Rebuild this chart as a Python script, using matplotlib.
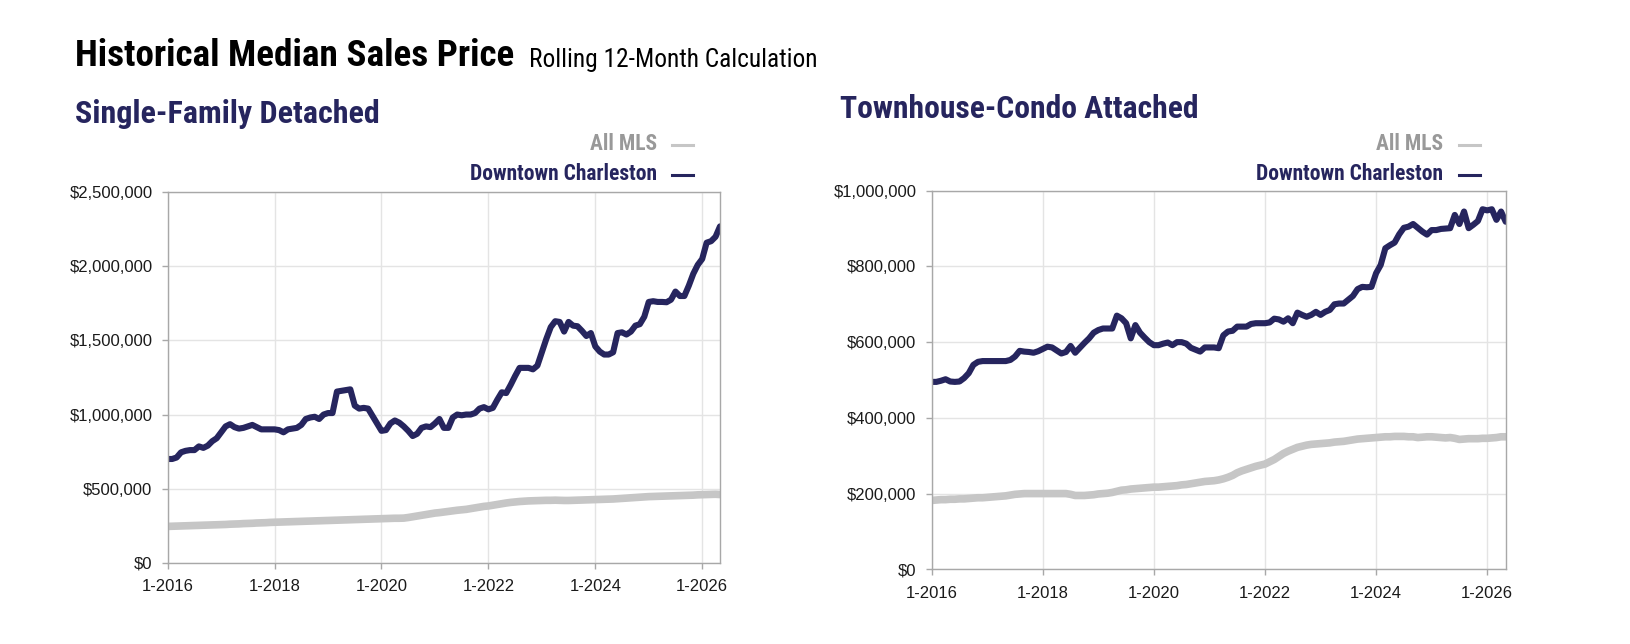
import numpy as np
import matplotlib.pyplot as plt
from matplotlib.lines import Line2D
from matplotlib.ticker import FuncFormatter

# monthly values in thousands of dollars, Jan 2016 .. May 2026
sf_downtown = [
    700, 700, 710, 745, 755, 760, 760, 785, 775, 790, 820, 840,
    880, 920, 935, 915, 905, 910, 920, 930, 915, 900, 900, 900,
    900, 895, 880, 900, 905, 910, 930, 970, 980, 985, 970, 1000,
    1010, 1010, 1155, 1160, 1165, 1170, 1060, 1040, 1045, 1040, 990, 940,
    890, 895, 940, 960, 945, 920, 890, 855, 870, 910, 920, 915,
    940, 970, 910, 910, 980, 1000, 995, 1000, 1000, 1010, 1040, 1050,
    1035, 1045, 1100, 1150, 1145, 1200, 1260, 1315, 1315, 1315, 1305, 1330,
    1420, 1510, 1590, 1630, 1625, 1560, 1625, 1600, 1596, 1565, 1530, 1550,
    1460, 1425, 1405, 1405, 1420, 1550, 1555, 1540, 1560, 1600, 1610, 1660,
    1760, 1765, 1760, 1760, 1758, 1775, 1830, 1800, 1800, 1870, 1950, 2010,
    2050, 2160, 2170, 2200, 2270,
]
sf_all_mls = [
    245, 246, 247, 248, 249, 250, 251, 252, 253, 254, 255, 256,
    257, 258, 260, 261, 262, 264, 265, 266, 268, 269, 270, 272,
    273, 274, 275, 276, 277, 278, 279, 280, 281, 282, 283, 284,
    285, 286, 287, 288, 289, 290, 291, 292, 293, 294, 295, 296,
    297, 298, 299, 300, 300, 301, 305, 310, 315, 320, 325, 330,
    335, 338, 342, 346, 350, 354, 357, 360, 365, 370, 375, 380,
    383, 388, 393, 398, 403, 407, 410, 413, 415, 417, 418, 419,
    420, 421, 421, 422, 421, 420, 420, 421, 422, 423, 424, 425,
    426, 427, 428, 429, 430, 432, 434, 436, 438, 440, 442, 444,
    446, 447, 448, 449, 450, 451, 452, 453, 454, 455, 456, 458,
    459, 460, 461, 462, 460,
]
tc_downtown = [
    495, 495, 498, 502, 496, 495, 496, 505, 518, 540, 548, 550,
    550, 550, 550, 550, 550, 553, 562, 577, 575, 574, 572, 576,
    582, 588, 586, 578, 570, 574, 590, 572, 585, 598, 610, 625,
    632, 636, 636, 636, 670, 663, 650, 610, 645, 625, 612, 600,
    592, 592, 596, 599, 592, 600, 600, 596, 585, 580, 575, 586,
    586, 586, 584, 618, 628, 630, 641, 641, 641, 648, 650, 650,
    650, 652, 662, 660, 654, 663, 650, 678, 672, 667, 672, 680,
    672, 680, 685, 700, 702, 702, 712, 722, 740, 746, 745, 746,
    782, 804, 848, 856, 863, 885, 902, 905, 912, 902, 892, 884,
    896, 896, 899, 900, 901, 936, 912, 945, 901, 910, 920, 951,
    948, 951, 923, 945, 918,
]
tc_all_mls = [
    182, 183, 184, 184, 185, 185, 186, 186, 187, 188, 189, 189,
    190, 191, 192, 193, 194, 196, 198, 199, 200, 200, 200, 200,
    200, 200, 200, 200, 200, 200, 198, 195, 195, 195, 196, 197,
    199, 200, 201, 203, 206, 209, 210, 212, 213, 214, 215, 216,
    217, 217, 218, 219, 220, 221, 223, 224, 226, 228, 230, 232,
    233, 234, 236, 239, 243, 248, 255, 260, 264, 268, 272, 275,
    278, 284, 290, 298, 306, 312, 317, 322, 325, 328, 330, 331,
    332, 333, 334, 336, 337, 338, 340, 342, 344, 345, 346, 347,
    348, 349, 350, 350, 351, 351, 351, 350, 350, 348, 349, 350,
    350, 349, 348, 347, 348, 346, 343, 344, 345, 345, 345, 346,
    346, 347, 348, 350, 350,
]
xtick_labels = ['1-2016', '1-2018', '1-2020', '1-2022', '1-2024', '1-2026']
xtick_months = [0, 24, 48, 72, 96, 120]

W, H = 1631, 644
navy = '#26255e'
grey_line = '#c6c6c6'
grey_text = '#999999'
narrow = ['Roboto Condensed', 'Liberation Sans', 'DejaVu Sans']
plt.rcParams['font.family'] = ['Liberation Sans', 'DejaVu Sans']

fig = plt.figure(figsize=(W / 100, H / 100), dpi=100)


def px_axes(x0, y0, x1, y1):
    return fig.add_axes([x0 / W, 1 - y1 / H, (x1 - x0) / W, (y1 - y0) / H])


def draw(ax, downtown, all_mls, ymax, step):
    months = np.arange(len(downtown))
    ax.plot(months, np.array(all_mls) * 1000, color=grey_line, lw=5.5,
            solid_capstyle='round', solid_joinstyle='round')
    ax.plot(months, np.array(downtown) * 1000, color=navy, lw=4.4,
            solid_capstyle='round', solid_joinstyle='round')
    ax.set_xlim(0, 124)
    ax.set_ylim(0, ymax)
    ax.set_yticks(np.arange(0, ymax + 1, step))
    ax.yaxis.set_major_formatter(FuncFormatter(lambda v, p: '${:,.0f}'.format(v)))
    ax.set_xticks(xtick_months)
    ax.set_xticklabels(xtick_labels)
    ax.grid(True, color='#e4e4e4', lw=1)
    ax.set_axisbelow(True)
    for s in ax.spines.values():
        s.set_color('#a8a8a8')
        s.set_linewidth(1)
    ax.tick_params(axis='y', length=4, width=1, color='#a8a8a8', pad=7,
                   labelsize=12, labelcolor='#1a1a1a')
    ax.tick_params(axis='x', length=4, width=1, color='#a8a8a8', pad=8,
                   labelsize=12, labelcolor='#1a1a1a')


def legend(x_right, dash_x0, dash_x1):
    for y, label, c, dc in [(144.5, 'All MLS', grey_text, grey_line),
                            (174.5, 'Downtown Charleston', navy, navy)]:
        fig.text(x_right / W, 1 - y / H, label, ha='right', va='center',
                 fontsize=15.5, fontweight='bold', color=c, family=narrow)
        fig.add_artist(Line2D([dash_x0 / W, dash_x1 / W], [1 - y / H, 1 - y / H],
                              color=dc, lw=2.2))


ax1 = px_axes(167.7, 192.3, 720, 562.7)
draw(ax1, sf_downtown, sf_all_mls, 2500000, 500000)
ax2 = px_axes(931.7, 190.7, 1505.7, 569.3)
draw(ax2, tc_downtown, tc_all_mls, 1000000, 200000)

title = fig.text(75 / W, 1 - 66.5 / H, 'Historical Median Sales Price', va='baseline',
                 fontsize=26.7, fontweight='bold', color='black', family=narrow)
fig.canvas.draw()
title_end = title.get_window_extent().x1
fig.text((title_end + 15) / W, 1 - 66.5 / H, 'Rolling 12-Month Calculation', va='baseline',
         fontsize=18.3, color='black', family=narrow)
fig.text(75 / W, 1 - 122.7 / H, 'Single-Family Detached', va='baseline',
         fontsize=23, fontweight='bold', color=navy, family=narrow)
fig.text(840.5 / W, 1 - 117.5 / H, 'Townhouse-Condo Attached', va='baseline',
         fontsize=22.8, fontweight='bold', color=navy, family=narrow)
legend(657, 672, 693)
legend(1443, 1459, 1480)

fig.savefig('out.png', dpi=100)
